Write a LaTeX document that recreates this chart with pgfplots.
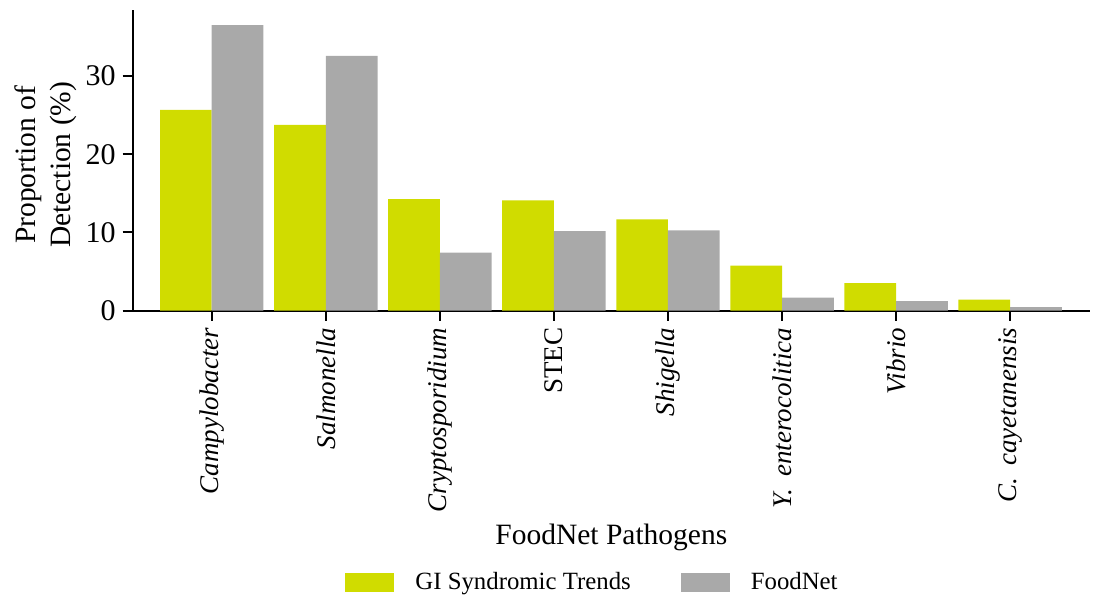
\documentclass[border=0pt]{standalone}
\usepackage{pgfplots}
\pgfplotsset{compat=1.18}
\usepackage{fontspec}
\setmainfont{Liberation Serif}
\definecolor{gi}{RGB}{208,220,0}
\definecolor{fn}{RGB}{169,169,169}
\begin{document}
\begin{tikzpicture}
\path[use as bounding box] (-66.35pt,-143.65pt) rectangle (481.15pt,155.35pt);
\begin{axis}[
  at={(0pt,0pt)}, anchor=south west,
  scale only axis,
  width=478.65pt, height=150.35pt,
  xmin=-0.693, xmax=7.70,
  ymin=0, ymax=38.45,
  axis lines*=left,
  axis line style={line width=1pt},
  every tick/.style={line width=1pt, black},
  tick align=outside,
  major tick length=5pt,
  xtick={0,1,2,3,4,5,6,7},
  ytick={0,10,20,30},
  xticklabels={\textit{Campylobacter},\textit{Salmonella},\textit{Cryptosporidium},STEC,\textit{Shigella},\textit{Y.\hspace{0.45em}enterocolitica},\textit{Vibrio},\textit{C.\hspace{0.45em}cayetanensis}},
  xticklabel style={rotate=90, anchor=east, font=\rmfamily\fontsize{13.5}{15}\selectfont},
  yticklabel style={font=\fontsize{15}{18}\selectfont},
  /pgf/number format/assume math mode=true,
  xlabel={FoodNet Pathogens},
  xlabel style={at={(axis description cs:0.5,-0.776)}, anchor=base, font=\fontsize{14.75}{17}\selectfont},
  ylabel={Proportion of\\Detection (\%)},
  ylabel style={at={(axis description cs:-0.0911,0.485)}, anchor=center, align=center, font=\rmfamily\fontsize{14.75}{17.5}\selectfont},
  legend columns=2,
  legend style={at={(axis description cs:0.4793,-0.904)}, anchor=center, draw=none, fill=none,
    inner sep=0pt, font=\fontsize{12.4}{14}\selectfont,
    nodes={inner sep=0pt},
    /tikz/every odd column/.append style={column sep=10.5pt},
    /tikz/every even column/.append style={column sep=25pt}},
  legend image code/.code={\fill[#1] (0pt,-4.75pt) rectangle (24.5pt,4.75pt);},
  clip=false,
]
\addplot[ybar, bar width=25.86pt, bar shift=-12.93pt, fill=gi, draw=none] coordinates {
(0,25.67) (1,23.75) (2,14.28) (3,14.12) (4,11.69) (5,5.75) (6,3.54) (7,1.41)};
\addlegendentry{GI Syndromic Trends}
\addplot[ybar, bar width=25.86pt, bar shift=12.93pt, fill=fn, draw=none] coordinates {
(0,36.5) (1,32.57) (2,7.42) (3,10.19) (4,10.28) (5,1.66) (6,1.24) (7,0.47)};
\addlegendentry{FoodNet}
\end{axis}
\end{tikzpicture}
\end{document}
